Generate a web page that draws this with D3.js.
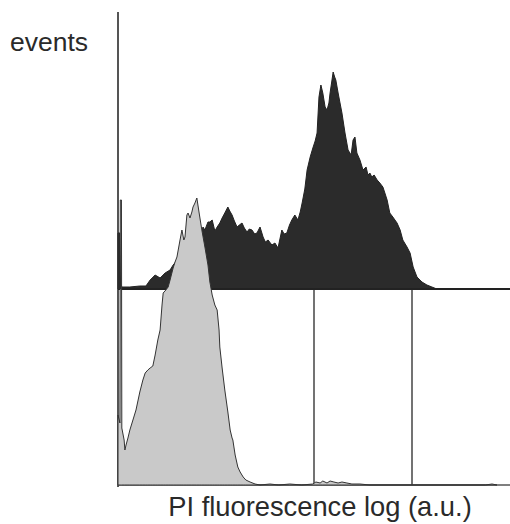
<!DOCTYPE html>
<html>
<head>
<meta charset="utf-8">
<script src="https://cdn.jsdelivr.net/npm/d3@7"></script>
<style>
html,body{margin:0;padding:0;background:#fff;}
svg{display:block;}
text{font-family:"Liberation Sans",Arial,sans-serif;fill:#2a2a2a;}
</style>
</head>
<body>
<svg id="chart" width="510" height="524"></svg>
<script>
// channel (0..1024, log-amplified, 4 decades) for the stained sample (dark, upper panel)
const darkChannels = [0,5,8,10,31,57,73,84,97,110,123,136,144,157,175,201,214,222,227,235,240,246,253,259,266,272,279,287,292,298,304,311,317,324,330,337,343,350,357,363,371,379,385,392,402,410,418,423,428,434,441,448,454,462,470,476,481,488,494,502,509,515,520,525,530,535,541,546,551,554,559,562,566,569,575,580,585,593,601,609,614,619,624,632,640,648,653,658,663,669,677,684,692,698,703,710,718,729,737,744,755,763,771,781,794,807,820,833];
const darkCounts   = [56,56,4,2,2,3,3,9,14,11,16,19,24,30,40,55,49,62,59,67,67,69,58,62,66,71,76,82,78,74,68,62,64,66,61,57,60,59,55,56,62,52,47,49,44,46,41,50,59,55,56,64,69,74,69,77,86,100,119,132,141,148,156,192,204,196,182,179,186,196,209,217,212,209,196,186,176,156,139,134,149,152,136,129,119,122,114,116,112,114,109,106,102,95,89,76,72,66,59,49,42,36,22,12,7,4,2,0];

// control sample (light grey, lower panel)
const greyChannels = [0,5,6,9,10,16,18,21,26,31,39,47,57,65,71,78,84,91,97,104,110,115,118,125,131,136,144,149,154,162,167,172,175,180,183,188,193,196,201,206,212,219,227,235,240,246,253,259,264,266,272,279,287,293,298,300,306,313,319,327,334,345,358,371,397,420,449,480,509,517,528,535,546,554,564,575,585,598,611,632,658,960,977,990];
const greyCounts   = [70,62,285,285,57,45,35,40,47,55,65,75,93,105,112,115,117,119,130,145,155,180,192,195,198,205,217,223,228,245,255,245,248,270,272,267,273,278,282,287,272,255,238,220,203,190,180,175,155,138,117,95,73,55,47,45,30,18,13,8,5,3,1,0,1,0,1,0,1,3,2,4,2,4,3,2,3,2,1,1,0,0,1,0];

const gateChannels = [512, 768];

const xLabel = "PI fluorescence log (a.u.)";
const yLabel = "events";

const darkData = darkChannels.map((c,i)=>({c, n:darkCounts[i]}));
const greyData = greyChannels.map((c,i)=>({c, n:greyCounts[i]}));

const svg = d3.select("#chart");
const x = d3.scaleLinear().domain([0,1024]).range([118,510]);
const yUp = d3.scaleLinear().domain([0,300]).range([289,-11]);
const yLo = d3.scaleLinear().domain([0,300]).range([485,185]);

// y axis line
svg.append("line").attr("x1",118).attr("x2",118).attr("y1",12).attr("y2",487)
  .attr("stroke","#555").attr("stroke-width",2);

// gate lines (lower panel)
svg.selectAll("line.gate").data(gateChannels).join("line").attr("class","gate")
  .attr("x1",d=>x(d)).attr("x2",d=>x(d)).attr("y1",yUp(0)).attr("y2",yLo(0))
  .attr("stroke","#444").attr("stroke-width",1.5);

// lower baseline
svg.append("line").attr("x1",118).attr("x2",510).attr("y1",yLo(0)).attr("y2",yLo(0))
  .attr("stroke","#555").attr("stroke-width",1.5);

// dark histogram
svg.append("path").datum(darkData)
  .attr("d", d3.area().x(d=>x(d.c)).y0(yUp(0)).y1(d=>yUp(d.n)))
  .attr("fill","#2b2b2b").attr("stroke","#222").attr("stroke-width",1);

// upper baseline
svg.append("line").attr("x1",118).attr("x2",510).attr("y1",yUp(0)).attr("y2",yUp(0))
  .attr("stroke","#222").attr("stroke-width",1.8);

// grey histogram (drawn over)
svg.append("path").datum(greyData)
  .attr("d", d3.area().x(d=>x(d.c)).y0(yLo(0)).y1(d=>yLo(d.n)))
  .attr("fill","#c9c9c9").attr("stroke","#333").attr("stroke-width",1);

// redraw dark spike at the axis over the grey one
svg.append("path").datum(darkData.slice(0,3))
  .attr("d", d3.area().x(d=>x(d.c)).y0(yUp(0)).y1(d=>yUp(d.n)))
  .attr("fill","#2b2b2b");

// labels
svg.append("text").attr("x",10).attr("y",51).attr("font-size",26.5).text(yLabel);
svg.append("text").attr("x",320).attr("y",516).attr("text-anchor","middle").attr("font-size",27.3).text(xLabel);
</script>
</body>
</html>
